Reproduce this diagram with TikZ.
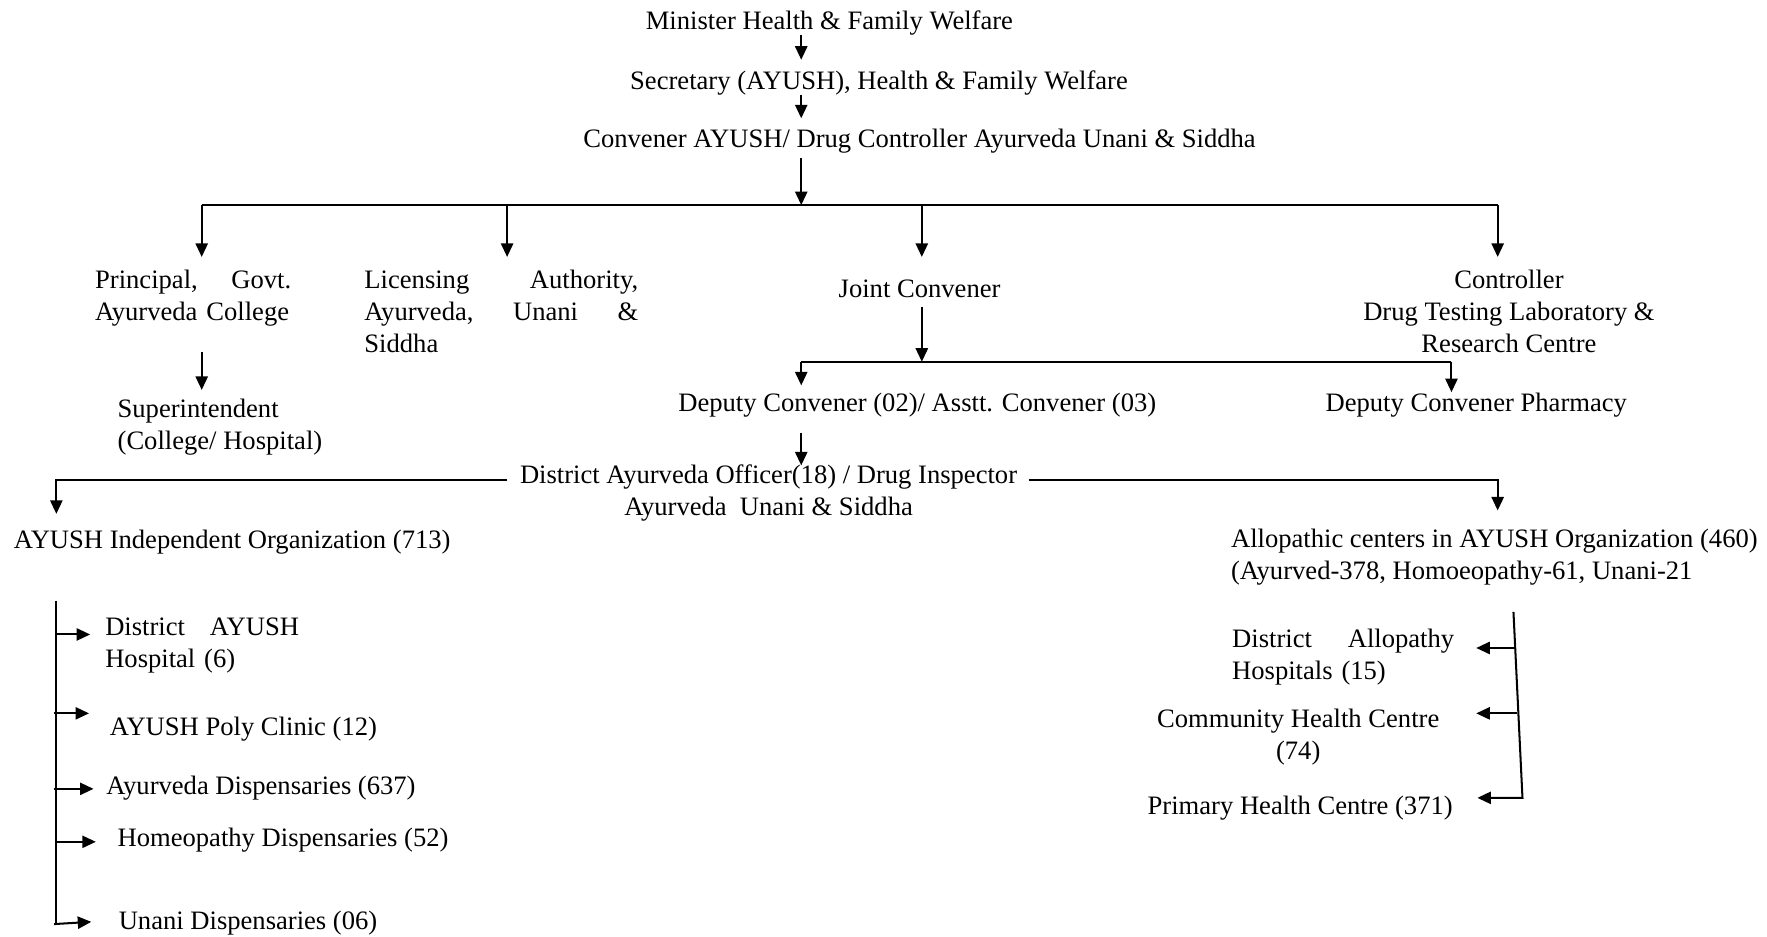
\documentclass[tikz,border=0pt]{standalone}
\usepackage{fontspec}
\setmainfont{Liberation Serif}
\usetikzlibrary{arrows.meta}
\begin{document}
\begin{tikzpicture}[x=0.5pt,y=-0.5pt,
  lbl/.style={inner sep=0pt, font=\fontsize{11.8}{14.2}\selectfont},
  ln/.style={line width=0.9pt},
  arr/.style={ln,-{Triangle[length=6pt,width=5.4pt]}},
]
\useasboundingbox (0,0) rectangle (1568,831);

% ---- nodes ----
\node[lbl,anchor=base] (min) at (736,26) {Minister Health \& Family Welfare};
\node[lbl,anchor=base] (sec) at (780,79) {Secretary (AYUSH), Health \& Family Welfare};
\node[lbl,anchor=base] (conv) at (816,131) {Convener AYUSH/ Drug Controller Ayurveda Unani \& Siddha};

\node[lbl,anchor=base west,text width=87pt,align=left] (prin) at (84,256) {Principal,\hfill Govt.\\\mbox{Ayurveda College}};
\node[lbl,anchor=base west,text width=121.5pt,align=left] (lic) at (323,256) {Licensing\hfill Authority,\\Ayurveda,\hfill Unani\hfill \&\\Siddha};
\node[lbl,anchor=base] (joint) at (816,264) {Joint Convener};
\node[lbl,anchor=base,align=center] (ctrl) at (1339,313) {Controller\\Drug Testing Laboratory \&\\Research Centre};

\node[lbl,anchor=base west,align=left] (supt) at (104,399) {Superintendent\\(College/ Hospital)};
\node[lbl,anchor=base] (dep) at (814,365) {Deputy Convener (02)/ Asstt. Convener (03)};
\node[lbl,anchor=base] (pharm) at (1310,365) {Deputy Convener Pharmacy};

\node[lbl,anchor=base,align=center] (dao) at (682,457) {District Ayurveda Officer(18) / Drug Inspector\\Ayurveda\ \ Unani \& Siddha};

\node[lbl,anchor=base west] (ayush) at (12,487) {AYUSH Independent Organization (713)};
\node[lbl,anchor=base west,align=left] (allo) at (1092,514) {Allopathic centers in AYUSH Organization (460)\\(Ayurved-378, Homoeopathy-61, Unani-21};

\node[lbl,anchor=base west,text width=86pt,align=left] (dah) at (93,564) {District\hfill AYUSH\\Hospital (6)};
\node[lbl,anchor=base west] (poly) at (97,653) {AYUSH Poly Clinic (12)};
\node[lbl,anchor=base west] (ayd) at (94,705) {Ayurveda Dispensaries (637)};
\node[lbl,anchor=base west] (homd) at (104,751) {Homeopathy Dispensaries (52)};
\node[lbl,anchor=base west] (unad) at (105,825) {Unani Dispensaries (06)};

\node[lbl,anchor=base west,text width=98.5pt,align=left] (dal) at (1093,575) {District\hfill Allopathy\\Hospitals (15)};
\node[lbl,anchor=base,align=center] (chc) at (1152,674) {Community Health Centre\\(74)};
\node[lbl,anchor=base west] (phc) at (1018,723) {Primary Health Centre (371)};

% ---- connector points ----
\coordinate (a1) at (711,31);  \coordinate (a2) at (711,53);
\coordinate (a3) at (711,84);  \coordinate (a4) at (711,105);
\coordinate (a5) at (711,140); \coordinate (bus) at (711,182);
\coordinate (bP) at (179,182); \coordinate (bL) at (450,182);
\coordinate (bJ) at (818,182); \coordinate (bC) at (1329,182);
\coordinate (tP) at (179,228); \coordinate (tL) at (450,228);
\coordinate (tJ) at (818,228); \coordinate (tC) at (1329,228);
\coordinate (j1) at (818,272); \coordinate (j2) at (818,321);
\coordinate (d1) at (711,321); \coordinate (d2) at (1288,321);
\coordinate (d1e) at (711,342); \coordinate (d2e) at (1288,348);
\coordinate (p1) at (179,312); \coordinate (p2) at (179,346);
\coordinate (q1) at (711,384); \coordinate (q2) at (711,413);
\coordinate (dl) at (450,426); \coordinate (dle) at (50,456);
\coordinate (dr) at (913,426); \coordinate (dre) at (1329,453);
% left spine
\coordinate (ls0) at (50,533); \coordinate (ls5) at (50,820);
\coordinate (l1) at (50,563);  \coordinate (l1e) at (80,563);
\coordinate (l2) at (48,633);  \coordinate (l2e) at (79,633);
\coordinate (l3) at (48,700);  \coordinate (l3e) at (83,700);
\coordinate (l4) at (50,747);  \coordinate (l4e) at (85,747);
\coordinate (l5) at (48,820);  \coordinate (l5e) at (81,818);
% right spine
\coordinate (rs0) at (1343,543); \coordinate (rs3) at (1351,708);
\coordinate (r1) at (1344.6,575); \coordinate (r1e) at (1310,575);
\coordinate (r2) at (1346,633);   \coordinate (r2e) at (1310,633);
\coordinate (r3e) at (1311,708);

% ---- connectors ----
\draw[arr] (a1) -- (a2);
\draw[arr] (a3) -- (a4);
\draw[arr] (a5) -- (bus);
\draw[ln] (bP) -- (bC);
\draw[arr] (bP) -- (tP);
\draw[arr] (bL) -- (tL);
\draw[arr] (bJ) -- (tJ);
\draw[arr] (bC) -- (tC);
\draw[arr] (j1) -- (j2);
\draw[ln] (d1) -- (d2);
\draw[arr] (d1) -- (d1e);
\draw[arr] (d2) -- (d2e);
\draw[arr] (p1) -- (p2);
\draw[arr] (q1) -- (q2);
\draw[arr] (dl) -| (dle);
\draw[arr] (dr) -| (dre);
\draw[ln] (ls0) -- (ls5);
\draw[arr] (l1) -- (l1e);
\draw[arr] (l2) -- (l2e);
\draw[arr] (l3) -- (l3e);
\draw[arr] (l4) -- (l4e);
\draw[arr] (l5) -- (l5e);
\draw[arr] (rs0) -- (rs3) -- (r3e);
\draw[arr] (r1) -- (r1e);
\draw[arr] (r2) -- (r2e);
\end{tikzpicture}
\end{document}
